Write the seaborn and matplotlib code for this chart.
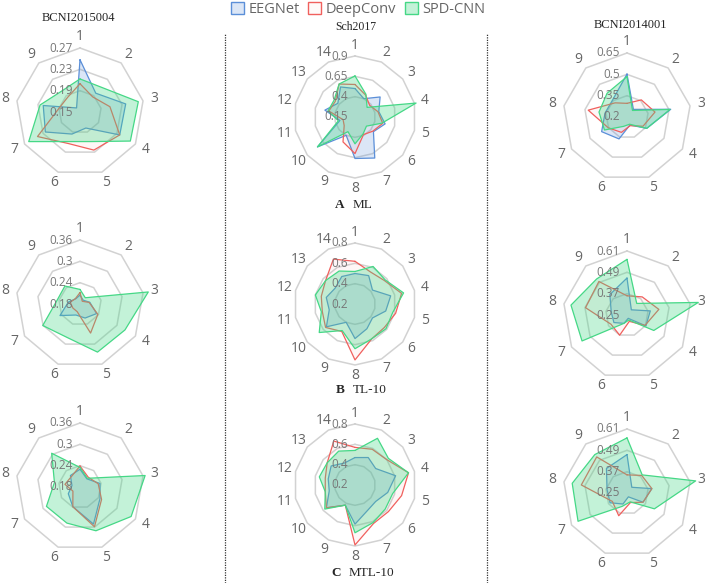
import numpy as np
import pandas as pd
import matplotlib
matplotlib.use("Agg")
import matplotlib.pyplot as plt
from matplotlib.patches import Patch
from matplotlib.lines import Line2D
from matplotlib.colors import to_rgba
import seaborn as sns

sns.set_theme(style="white")
plt.rcParams['font.family'] = ['Open Sans', 'DejaVu Sans']

models = ['EEGNet', 'DeepConv', 'SPD-CNN']
line_cols = ['#5b8fd8', '#f0605d', '#45d886']
fill_alpha = [0.22, 0.05, 0.32]

# ---- BCNI2015004 (9 subjects) ----
b15_ticks_ml = ['0.15', '0.19', '0.23', '0.27']
b15_ticks = ['0.18', '0.24', '0.3', '0.36']
b15_ml_eeg = [0.248, 0.196, 0.237, 0.236, 0.182, 0.194, 0.225, 0.220, 0.160]
b15_ml_dc = [0.203, 0.187, 0.207, 0.236, 0.226, 0.213, 0.242, 0.190, 0.186]
b15_ml_spd = [0.212, 0.211, 0.261, 0.259, 0.209, 0.209, 0.261, 0.226, 0.202]
b15_tl_eeg = [0.205, 0.194, 0.208, 0.234, 0.222, 0.213, 0.245, 0.213, 0.199]
b15_tl_dc = [0.212, 0.190, 0.206, 0.238, 0.267, 0.203, 0.203, 0.208, 0.200]
b15_tl_spd = [0.221, 0.203, 0.375, 0.326, 0.324, 0.281, 0.301, 0.245, 0.246]
b15_mtl_eeg = [0.230, 0.210, 0.237, 0.245, 0.291, 0.239, 0.218, 0.203, 0.222]
b15_mtl_dc = [0.239, 0.216, 0.232, 0.250, 0.299, 0.239, 0.203, 0.223, 0.218]
b15_mtl_spd = [0.235, 0.212, 0.366, 0.346, 0.311, 0.288, 0.289, 0.253, 0.304]

# ---- Sch2017 (14 subjects) ----
sch_ticks_ml = ['0.15', '0.4', '0.65', '0.9']
sch_ticks = ['0.2', '0.4', '0.6', '0.8']
sch_ml_eeg = [0.50, 0.40, 0.545, 0.45, 0.53, 0.44, 0.71, 0.66, 0.40, 0.74, 0.34, 0.53, 0.42, 0.56]
sch_ml_dc = [0.55, 0.45, 0.38, 0.44, 0.50, 0.43, 0.39, 0.60, 0.49, 0.32, 0.30, 0.48, 0.46, 0.60]
sch_ml_spd = [0.655, 0.46, 0.34, 0.92, 0.49, 0.33, 0.38, 0.48, 0.35, 0.74, 0.36, 0.49, 0.48, 0.60]
sch_tl_eeg = [0.50, 0.51, 0.42, 0.56, 0.51, 0.42, 0.47, 0.54, 0.40, 0.56, 0.46, 0.49, 0.45, 0.50]
sch_tl_dc = [0.62, 0.55, 0.57, 0.67, 0.61, 0.57, 0.58, 0.75, 0.50, 0.57, 0.53, 0.54, 0.57, 0.69]
sch_tl_spd = [0.52, 0.61, 0.58, 0.69, 0.58, 0.59, 0.58, 0.64, 0.49, 0.65, 0.54, 0.60, 0.57, 0.56]
sch_mtl_eeg = [0.47, 0.50, 0.46, 0.61, 0.53, 0.46, 0.48, 0.585, 0.42, 0.56, 0.46, 0.47, 0.50, 0.44]
sch_mtl_dc = [0.57, 0.59, 0.60, 0.74, 0.67, 0.62, 0.62, 0.79, 0.42, 0.56, 0.50, 0.50, 0.55, 0.68]
sch_mtl_spd = [0.54, 0.71, 0.62, 0.74, 0.58, 0.58, 0.61, 0.67, 0.42, 0.58, 0.50, 0.56, 0.55, 0.57]

# ---- BCNI2014001 (9 subjects) ----
b14_ticks_ml = ['0.2', '0.35', '0.5', '0.65']
b14_ticks = ['0.25', '0.37', '0.49', '0.61']
b14_ml_eeg = [0.502, 0.270, 0.512, 0.360, 0.260, 0.364, 0.406, 0.357, 0.357]
b14_ml_dc = [0.296, 0.357, 0.400, 0.330, 0.265, 0.315, 0.352, 0.477, 0.330]
b14_ml_spd = [0.484, 0.260, 0.507, 0.360, 0.254, 0.270, 0.383, 0.400, 0.418]
b14_tl_eeg = [0.458, 0.288, 0.383, 0.373, 0.270, 0.300, 0.335, 0.340, 0.400]
b14_tl_dc = [0.358, 0.383, 0.432, 0.367, 0.288, 0.371, 0.354, 0.487, 0.496]
b14_tl_spd = [0.563, 0.335, 0.657, 0.424, 0.280, 0.300, 0.542, 0.570, 0.515]
b14_mtl_eeg = [0.466, 0.292, 0.392, 0.354, 0.273, 0.316, 0.360, 0.364, 0.430]
b14_mtl_dc = [0.352, 0.379, 0.392, 0.354, 0.307, 0.386, 0.345, 0.511, 0.515]
b14_mtl_spd = [0.560, 0.383, 0.642, 0.428, 0.303, 0.330, 0.568, 0.563, 0.532]

W, H = 708, 583
fig = plt.figure(figsize=(W / 100, H / 100), dpi=100)


def radar(cx, cy, R, ticks, series):
    n = len(series[0])
    ax = fig.add_axes([(cx - R) / W, (H - cy - R) / H, 2 * R / W, 2 * R / H],
                      projection='polar')
    ax.set_theta_offset(np.pi / 2)
    ax.set_theta_direction(-1)
    lev = [float(t) for t in ticks]
    lo, hi = lev[0], lev[-1]
    theta = np.linspace(0, 2 * np.pi, n, endpoint=False)
    th_c = np.append(theta, 2 * np.pi)
    # polygon rings
    for l in lev[1:]:
        ax.plot(th_c, [l] * (n + 1), color='#d2d2d2', lw=1.1, clip_on=False, zorder=1)
    rows = []
    for m, vals in zip(models, series):
        for t, v in zip(th_c, list(vals) + [vals[0]]):
            rows.append((m, t, v))
    df = pd.DataFrame(rows, columns=['model', 'theta', 'value'])
    for i, m in enumerate(models):
        d = df[df.model == m]
        ax.fill(d.theta, d.value, color=line_cols[i], alpha=fill_alpha[i], lw=0,
                clip_on=False, zorder=2 + i)
        sns.lineplot(data=d, x='theta', y='value', sort=False, estimator=None,
                     color=line_cols[i], lw=0.9, ax=ax, legend=False,
                     clip_on=False, zorder=2 + i)
    ax.set_ylim(lo, hi)
    ax.set_xlabel('')
    ax.set_ylabel('')
    ax.grid(False)
    ax.set_xticks([])
    ax.set_yticks([])
    ax.spines['polar'].set_visible(False)
    ax.set_facecolor('none')
    for k in range(n):
        ax.text(theta[k], lo + 1.18 * (hi - lo), str(k + 1), ha='center', va='center',
                fontsize=10, color='#666666', clip_on=False)
    for t, l in zip(ticks, lev):
        ax.annotate(t, xy=(0, l), xytext=(-7, 0), textcoords='offset pixels',
                    ha='right', va='center', fontsize=8.5, color='#777777',
                    annotation_clip=False, zorder=10)
    return ax


radar(80, 112, 64, b15_ticks_ml, [b15_ml_eeg, b15_ml_dc, b15_ml_spd])
radar(80, 304, 64, b15_ticks, [b15_tl_eeg, b15_tl_dc, b15_tl_spd])
radar(80, 487, 64, b15_ticks, [b15_mtl_eeg, b15_mtl_dc, b15_mtl_spd])

radar(355, 117, 61, sch_ticks_ml, [sch_ml_eeg, sch_ml_dc, sch_ml_spd])
radar(355, 304, 61, sch_ticks, [sch_tl_eeg, sch_tl_dc, sch_tl_spd])
radar(355, 485, 61, sch_ticks, [sch_mtl_eeg, sch_mtl_dc, sch_mtl_spd])

radar(627, 117, 64, b14_ticks_ml, [b14_ml_eeg, b14_ml_dc, b14_ml_spd])
radar(627, 315, 64, b14_ticks, [b14_tl_eeg, b14_tl_dc, b14_tl_spd])
radar(627, 493, 64, b14_ticks, [b14_mtl_eeg, b14_mtl_dc, b14_mtl_spd])

# column titles
serif = ['Liberation Serif', 'DejaVu Serif']
fig.text(78 / W, 1 - 18 / H, 'BCNI2015004', ha='center', va='center', fontsize=9, family=serif)
fig.text(356 / W, 1 - 27 / H, 'Sch2017', ha='center', va='center', fontsize=8.5, family=serif)
fig.text(630 / W, 1 - 25 / H, 'BCNI2014001', ha='center', va='center', fontsize=9, family=serif)

# panel captions
for letter, name, lx, nx, y in [('A', 'ML', 340, 353, 205),
                                ('B', 'TL-10', 340, 353, 390),
                                ('C', 'MTL-10', 336, 349, 573)]:
    fig.text(lx / W, 1 - y / H, letter, ha='center', va='center', fontsize=9.5,
             weight='bold', family=serif)
    fig.text(nx / W, 1 - y / H, name, ha='left', va='center', fontsize=9.5, family=serif)

# dotted separators
for x in [225, 487]:
    fig.add_artist(Line2D([x / W, x / W], [0, 1 - 33 / H], transform=fig.transFigure,
                          color='#333333', lw=0.9, ls=(0, (1, 1))))

handles = [Patch(facecolor=to_rgba(c, a if a > 0.1 else 0.03), edgecolor=c, lw=1)
           for c, a in zip(line_cols, fill_alpha)]
leg = fig.legend(handles, models, loc='upper center', bbox_to_anchor=(358 / W, 1.012),
                 ncol=3, frameon=False, fontsize=10.5, handlelength=0.9, handleheight=0.9,
                 handletextpad=0.3, columnspacing=0.6, borderpad=0.1)
for t in leg.get_texts():
    t.set_color('#666666')

fig.savefig('out.png', dpi=100)
